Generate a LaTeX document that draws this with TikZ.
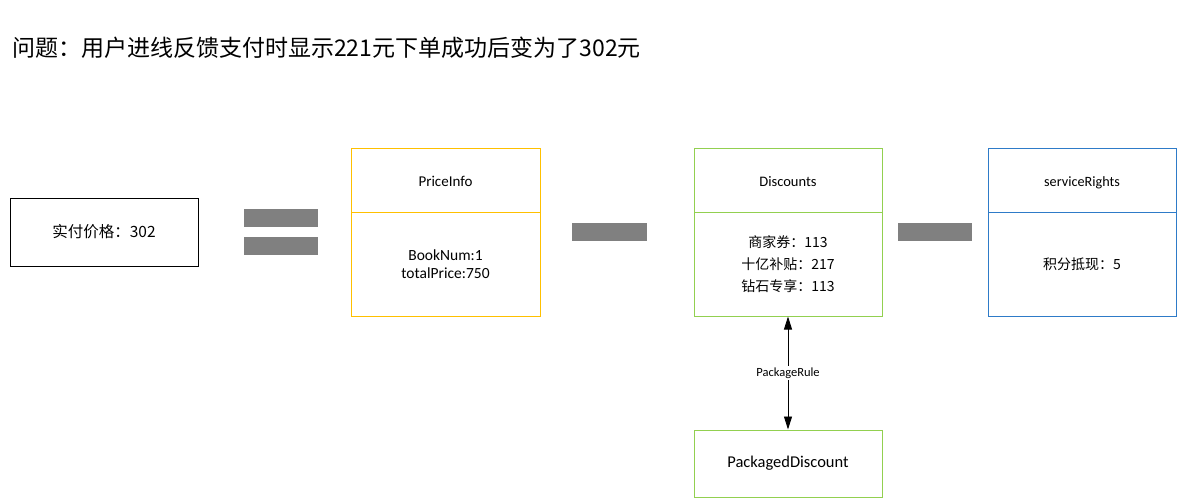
\documentclass[tikz,border=0pt]{standalone}
\usepackage{fontspec}
\setmainfont{Carlito}
\newfontfamily\cjk{Noto Sans CJK SC}
\usetikzlibrary{arrows.meta}
\definecolor{yel}{HTML}{FFC000}
\definecolor{grn}{HTML}{92D050}
\definecolor{blu}{HTML}{2E7BC8}
\definecolor{bargray}{HTML}{808080}
\begin{document}
\begin{tikzpicture}[x=1pt,y=-1pt,
  box/.style={draw, line width=1pt, inner sep=0pt, align=center, font=\fontsize{15.5}{18}\selectfont},
  head/.style={box, minimum height=64pt, text height=12pt, text depth=0pt, font=\fontsize{15}{18}\selectfont},
  bar/.style={fill=bargray, draw=none}]
\useasboundingbox (0,0) rectangle (1178,499);
\node[anchor=west, inner sep=0pt, font=\cjk\fontsize{23}{26}\selectfont] (title) at (12,48) {问题：用户进线反馈支付时显示221元下单成功后变为了302元};
% pay box
\node[box, minimum width=188pt, minimum height=68pt, font=\cjk\fontsize{15.5}{18}\selectfont] (pay) at (104,232) {实付价格：302};
% equals
\fill[bar] (244,209) rectangle (318,227);
\fill[bar] (244,237) rectangle (318,255);
% PriceInfo
\node[head, draw=yel, minimum width=189pt] (phead) at (445.5,180) {PriceInfo};
\node[box, draw=yel, minimum width=189pt, minimum height=104pt] (pbody) at (445.5,264) {BookNum:1\\totalPrice:750};
% minus
\fill[bar] (572,223) rectangle (647,241);
% Discounts
\node[head, draw=grn, minimum width=188pt, font=\fontsize{14.5}{18}\selectfont] (dhead) at (788,180) {Discounts};
\node[box, draw=grn, minimum width=188pt, minimum height=104pt, font=\cjk\fontsize{14}{22}\selectfont] (dbody) at (788,264) {商家券：113\\十亿补贴：217\\钻石专享：113};
% minus
\fill[bar] (898,223) rectangle (972,241);
% serviceRights
\node[head, draw=blu, minimum width=188pt, font=\fontsize{14.2}{18}\selectfont] (shead) at (1082,180) {serviceRights};
\node[box, draw=blu, minimum width=188pt, minimum height=104pt, font=\cjk\fontsize{14}{18}\selectfont] (sbody) at (1082,264) {积分抵现：5};
% PackagedDiscount
\node[box, draw=grn, minimum width=188pt, minimum height=67pt, font=\fontsize{16.5}{18}\selectfont] (pd) at (788,463.5) {PackagedDiscount};
% arrow
\draw[line width=0.9pt, {Triangle[length=13pt,width=8pt]}-{Triangle[length=13pt,width=8pt]}] (dbody.south) -- (pd.north)
  node[midway, fill=white, inner sep=1.5pt, font=\fontsize{12.5}{14}\selectfont] (rule) {PackageRule};
\end{tikzpicture}
\end{document}
